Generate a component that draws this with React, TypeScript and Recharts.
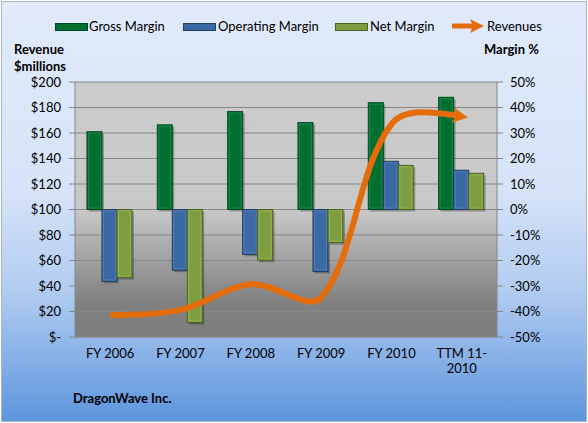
import React from "react";
import {
  ComposedChart,
  Bar,
  Line,
  XAxis,
  YAxis,
  CartesianGrid,
} from "recharts";

const categories = ["FY 2006", "FY 2007", "FY 2008", "FY 2009", "FY 2010", "TTM 11-2010"];
const grossMargin = [30.5, 33.2, 38.4, 34.1, 41.9, 44.0];
const operatingMargin = [-28.2, -23.8, -17.6, -24.3, 18.9, 15.4];
const netMargin = [-26.7, -44.3, -19.9, -13.0, 17.3, 14.2];
const revenues = [17.2, 21.3, 41.4, 31.0, 167, 173];
const revenueTicks = [0, 20, 40, 60, 80, 100, 120, 140, 160, 180, 200];
const marginTicks = [-50, -40, -30, -20, -10, 0, 10, 20, 30, 40, 50];

const data = categories.map((c, i) => ({
  name: c,
  gross: grossMargin[i],
  op: operatingMargin[i],
  net: netMargin[i],
  rev: revenues[i],
}));

const FONT = "Lato, 'Open Sans', sans-serif";
const ORANGE = "#e46c0a";

// Excel-like smoothed line: Catmull-Rom tangents weighted by segment lengths
function excelCurve(context: any) {
  let pts: number[][] = [];
  return {
    areaStart() {},
    areaEnd() {},
    lineStart() {
      pts = [];
    },
    point(x: number, y: number) {
      pts.push([+x, +y]);
    },
    lineEnd() {
      const n = pts.length;
      if (n === 0) return;
      context.moveTo(pts[0][0], pts[0][1]);
      if (n === 1) return;
      if (n === 2) {
        context.lineTo(pts[1][0], pts[1][1]);
        return;
      }
      const f: number[][] = [];
      const b: number[][] = [];
      for (let i = 1; i < n - 1; i++) {
        const p0 = pts[i - 1];
        const p1 = pts[i];
        const p2 = pts[i + 1];
        const dx = p2[0] - p0[0];
        const dy = p2[1] - p0[1];
        const l1 = Math.hypot(p1[0] - p0[0], p1[1] - p0[1]);
        const l2 = Math.hypot(p2[0] - p1[0], p2[1] - p1[1]);
        const s = l1 + l2 || 1;
        b[i] = [p1[0] - (dx * l1) / s / 3, p1[1] - (dy * l1) / s / 3];
        f[i] = [p1[0] + (dx * l2) / s / 3, p1[1] + (dy * l2) / s / 3];
      }
      f[0] = [(pts[0][0] + b[1][0]) / 2, (pts[0][1] + b[1][1]) / 2];
      b[n - 1] = [(pts[n - 1][0] + f[n - 2][0]) / 2, (pts[n - 1][1] + f[n - 2][1]) / 2];
      for (let i = 0; i < n - 1; i++) {
        context.bezierCurveTo(f[i][0], f[i][1], b[i + 1][0], b[i + 1][1], pts[i + 1][0], pts[i + 1][1]);
      }
    },
  };
}

const makeBar = (base: string, light: string, border: string) => (props: any) => {
  const { x, y, width, height } = props;
  if (width == null || height == null) return null;
  const yy = height < 0 ? y + height : y;
  const h = Math.abs(height);
  if (h < 0.5) return null;
  return (
    <g>
      <rect x={x + 2} y={yy + 2} width={width} height={h} fill="rgba(0,0,0,0.28)" />
      <rect x={x} y={yy} width={width} height={h} fill={base} stroke={border} strokeWidth={1} />
      <rect
        x={x + 1.5}
        y={yy + 1.5}
        width={Math.max(0, width - 3)}
        height={Math.max(0, h - 3)}
        fill="none"
        stroke={light}
        strokeWidth={1}
        opacity={0.7}
      />
    </g>
  );
};

const GrossShape = makeBar("#006f31", "#2b9154", "#004a20");
const OpShape = makeBar("#3b69a4", "#5b86bd", "#223f66");
const NetShape = makeBar("#7e9d3e", "#9cb960", "#4e6425");

const XTick = (props: any) => {
  const { x, y, payload } = props;
  const label: string = payload.value;
  let lines = [label];
  const idx = label.indexOf("-");
  if (idx > 0 && label.length > 8) lines = [label.slice(0, idx + 1), label.slice(idx + 1)];
  return (
    <text x={x} y={y} textAnchor="middle" fill="#000" fontSize={13} fontFamily={FONT}>
      {lines.map((l, i) => (
        <tspan key={i} x={x} dy={i === 0 ? 13 : 15}>
          {l}
        </tspan>
      ))}
    </text>
  );
};

const Swatch = ({ left, color, border }: { left: number; color: string; border: string }) => (
  <div
    style={{
      position: "absolute",
      left,
      top: 23,
      width: 31,
      height: 6,
      background: color,
      border: `1px solid ${border}`,
    }}
  />
);

const textStyle = (left: number, top: number, bold = false): React.CSSProperties => ({
  position: "absolute",
  left,
  top,
  fontFamily: FONT,
  fontSize: 13,
  fontWeight: bold ? 700 : 400,
  color: "#000",
  lineHeight: "16px",
  whiteSpace: "nowrap",
});

export default function App() {
  return (
    <div
      style={{
        position: "absolute",
        left: 0,
        top: 0,
        width: 588,
        height: 423,
        background: "#fff",
      }}
    >
      <svg width={0} height={0} style={{ position: "absolute" }}>
        <defs>
          <linearGradient id="plotBg" x1="0" y1="0" x2="0" y2="1">
            <stop offset="0" stopColor="#cccccc" />
            <stop offset="0.5" stopColor="#c8c8c8" />
            <stop offset="0.86" stopColor="#818181" />
            <stop offset="1" stopColor="#7d7d7d" />
          </linearGradient>
          <marker
            id="arrowHead"
            viewBox="0 0 10 10"
            refX="6"
            refY="5"
            markerWidth="2.6"
            markerHeight="2.6"
            orient="auto"
            markerUnits="strokeWidth"
          >
            <path d="M0,0 L10,5 L0,10 L2.5,5 z" fill={ORANGE} />
          </marker>
        </defs>
      </svg>
      <div
        style={{
          position: "absolute",
          left: 1,
          top: 1,
          width: 584,
          height: 419,
          border: "1px solid #a9b6c8",
          background:
            "linear-gradient(to bottom, #e0eafb 0%, #d6e3f8 45%, #b3cdf0 68%, #8ab2e8 84%, #5d95dc 100%)",
        }}
      />
      <div style={{ position: "absolute", left: 0, top: 0 }}>
        <ComposedChart
          width={588}
          height={423}
          data={data}
          margin={{ top: 82, right: 0, bottom: 46, left: 0 }}
          barCategoryGap="17%"
          barGap={0}
        >
          <CartesianGrid
            yAxisId="right"
            vertical={false}
            stroke="#878787"
            fill="url(#plotBg)"
            fillOpacity={1}
          />
          <XAxis
            dataKey="name"
            height={40}
            axisLine={{ stroke: "#868686" }}
            tickLine={false}
            tick={<XTick />}
            interval={0}
          />
          <YAxis
            yAxisId="left"
            orientation="left"
            width={75}
            domain={[0, 200]}
            ticks={revenueTicks}
            interval={0}
            tickFormatter={(v: number) => (v === 0 ? "$-" : `$${v}`)}
            axisLine={{ stroke: "#868686" }}
            tickLine={{ stroke: "#868686" }}
            tickSize={6}
            tickMargin={8}
            tick={{ fill: "#000", fontSize: 13, fontFamily: FONT }}
          />
          <YAxis
            yAxisId="right"
            orientation="right"
            width={91}
            domain={[-50, 50]}
            ticks={marginTicks}
            interval={0}
            tickFormatter={(v: number) => `${v}%`}
            axisLine={{ stroke: "#868686" }}
            tickLine={{ stroke: "#868686" }}
            tickSize={6}
            tickMargin={7}
            tick={{ fill: "#000", fontSize: 13, fontFamily: FONT }}
          />
          <Bar yAxisId="right" dataKey="gross" shape={GrossShape} isAnimationActive={false} />
          <Bar yAxisId="right" dataKey="op" shape={OpShape} isAnimationActive={false} />
          <Bar yAxisId="right" dataKey="net" shape={NetShape} isAnimationActive={false} />
          <Line
            yAxisId="left"
            dataKey="rev"
            type={excelCurve as any}
            stroke={ORANGE}
            strokeWidth={6}
            dot={false}
            activeDot={false}
            markerEnd="url(#arrowHead)"
            isAnimationActive={false}
          />
        </ComposedChart>
      </div>

      {/* Legend */}
      <Swatch left={55} color="#006f31" border="#004a20" />
      <div style={textStyle(89, 18)}>Gross Margin</div>
      <Swatch left={183} color="#3b69a4" border="#223f66" />
      <div style={textStyle(218, 18)}>Operating Margin</div>
      <Swatch left={335} color="#7e9d3e" border="#4e6425" />
      <div style={textStyle(370, 18)}>Net Margin</div>
      <svg style={{ position: "absolute", left: 450, top: 17 }} width={36} height={18}>
        <line x1={2} y1={9} x2={24} y2={9} stroke={ORANGE} strokeWidth={5} />
        <path d="M20,2 L34,9 L20,16 L23,9 z" fill={ORANGE} />
      </svg>
      <div style={textStyle(487, 18)}>Revenues</div>

      {/* Axis titles */}
      <div style={textStyle(14, 41, true)}>Revenue</div>
      <div style={textStyle(14, 58, true)}>$millions</div>
      <div style={textStyle(484, 41, true)}>Margin %</div>
      <div style={textStyle(73, 390, true)}>DragonWave Inc.</div>
    </div>
  );
}
